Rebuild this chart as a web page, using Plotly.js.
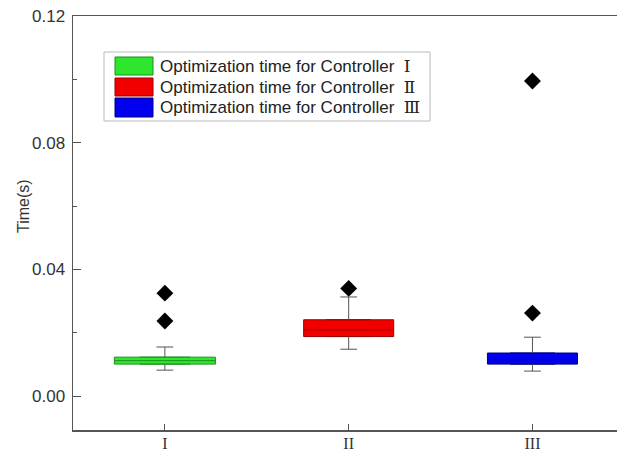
<!DOCTYPE html>
<html>
<head>
<meta charset="utf-8">
<script src="https://cdn.plot.ly/plotly-3.0.1.min.js"></script>
<style>html,body{margin:0;padding:0;background:#fff;}#chart{width:617px;height:453px;}</style>
</head>
<body>
<div id="chart"></div>
<script>
// ---- data ----
const categories = ['I', 'II', 'III'];
const seriesNames = ['Optimization time for Controller Ⅰ', 'Optimization time for Controller Ⅱ', 'Optimization time for Controller Ⅲ'];
const q1 = [0.0101, 0.0188, 0.0101];
const median = [0.0112, 0.0209, 0.0115];
const q3 = [0.0123, 0.0241, 0.0136];
const lowerWhisker = [0.0082, 0.0148, 0.0079];
const upperWhisker = [0.0155, 0.0313, 0.0186];
const outlierGroup = ['I', 'I', 'II', 'III', 'III'];
const outlierValue = [0.0325, 0.0237, 0.0340, 0.0995, 0.0262];
const yTickVals = [0.00, 0.04, 0.08, 0.12];
const yTitle = 'Time(s)';

// ---- styles ----
const fills = ['#2ee62e', '#f20000', '#0000ee'];
const edges = ['#1f8f1f', '#9a0000', '#000080'];
const boxWidths = [0.55, 0.49, 0.49];
const whiskerColor = '#555555';

const traces = [];
categories.forEach((c, i) => {
  traces.push({
    type: 'box', x: [c], q1: [q1[i]], median: [median[i]], q3: [q3[i]],
    lowerfence: [q1[i]], upperfence: [q3[i]],
    width: boxWidths[i], fillcolor: fills[i],
    line: {color: edges[i], width: 1}, name: seriesNames[i],
    showlegend: false, hoverinfo: 'skip', boxpoints: false
  });
});
// whiskers
const wx = [], wy = [];
categories.forEach((c, i) => {
  wx.push(c, c, null, c, c, null);
  wy.push(q3[i], upperWhisker[i], null, q1[i], lowerWhisker[i], null);
});
traces.push({type: 'scatter', mode: 'lines', x: wx, y: wy, line: {color: whiskerColor, width: 1}, showlegend: false, hoverinfo: 'skip'});
// caps
traces.push({
  type: 'scatter', mode: 'markers',
  x: categories.concat(categories), y: upperWhisker.concat(lowerWhisker),
  marker: {symbol: 'line-ew', size: 12, line: {color: whiskerColor, width: 1}},
  showlegend: false, hoverinfo: 'skip'
});
// outliers
traces.push({
  type: 'scatter', mode: 'markers', x: outlierGroup, y: outlierValue,
  marker: {symbol: 'diamond', size: 13, color: '#000'}, showlegend: false
});

// custom legend (pixel positions converted to paper)
const L = 73, R = 617, T = 16, B = 430;
const px = v => (v - L) / (R - L);
const py = v => (B - v) / (B - T);
const shapes = [{type: 'rect', xref: 'paper', yref: 'paper', x0: px(104), x1: px(430), y0: py(121), y1: py(52),
  line: {color: '#b8b8b8', width: 1}, fillcolor: '#fff', layer: 'above'}];
const annotations = [];
const rows = [[57, 75], [78, 96], [98, 117]];
seriesNames.forEach((n, i) => {
  shapes.push({type: 'rect', xref: 'paper', yref: 'paper', x0: px(115), x1: px(153), y0: py(rows[i][1]), y1: py(rows[i][0]),
    line: {color: edges[i], width: 1}, fillcolor: fills[i], layer: 'above'});
  const parts = n.split('Controller ');
  annotations.push({xref: 'paper', yref: 'paper', x: px(158), y: py((rows[i][0] + rows[i][1]) / 2),
    xanchor: 'left', yanchor: 'middle', showarrow: false,
    text: parts[0] + 'Controller  <span style="font-family:DejaVu Serif">' + parts[1] + '</span>',
    font: {family: 'Liberation Sans, Arial, sans-serif', size: 17, color: '#222'}});
});
// y-axis title (placed as annotation to match its off-centre position)
annotations.push({xref: 'paper', yref: 'paper', x: px(23), y: py(206), xanchor: 'center', yanchor: 'middle',
  showarrow: false, textangle: -90, text: yTitle,
  font: {family: 'Liberation Sans, Arial, sans-serif', size: 16, color: '#333'}});

const layout = {
  width: 617, height: 453,
  margin: {l: L, r: 617 - R, t: T, b: 453 - B, pad: 0},
  paper_bgcolor: '#fff', plot_bgcolor: '#fff',
  showlegend: false,
  font: {family: 'Liberation Sans, Arial, sans-serif', color: '#333'},
  xaxis: {
    type: 'category', categoryarray: categories, range: [-0.5, 2.46],
    showline: true, linecolor: '#555', linewidth: 1.5, mirror: true,
    ticks: 'inside', ticklen: 6, tickcolor: '#555', tickwidth: 1,
    showgrid: false, zeroline: false, ticklabelstandoff: -2,
    tickfont: {family: 'Liberation Serif, Times New Roman, serif', size: 16, color: '#333'}
  },
  yaxis: {
    range: [-0.0107, 0.12], tickvals: yTickVals, tickformat: '.2f',
    showline: true, linecolor: '#555', linewidth: 1.5,
    ticks: 'inside', ticklen: 8, tickcolor: '#555', tickwidth: 1,
    minor: {dtick: 0.02, ticks: 'inside', ticklen: 4, tickcolor: '#555', showgrid: false},
    showgrid: false, zeroline: false, ticklabelstandoff: 3,
    tickfont: {size: 17, color: '#333'}
  },
  shapes: shapes, annotations: annotations
};

Plotly.newPlot('chart', traces, layout, {staticPlot: true});
</script>
</body>
</html>
